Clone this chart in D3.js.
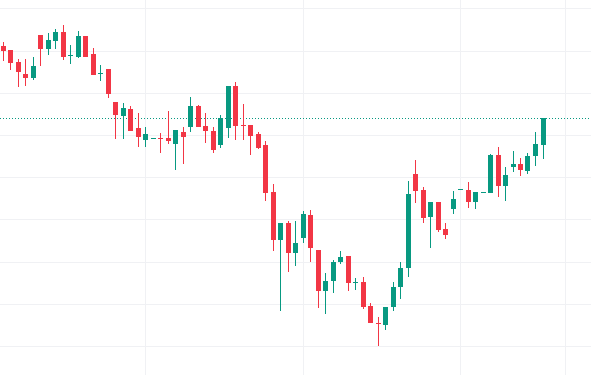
<!DOCTYPE html>
<html>
<head>
<meta charset="utf-8">
<script src="https://cdn.jsdelivr.net/npm/d3@7"></script>
<style>
  html, body { margin: 0; padding: 0; background: #ffffff; }
  svg { display: block; }
</style>
</head>
<body>
<div id="chart"></div>
<script>
// ---- data (OHLC per bar) ----
const opens  = [191.1,190.1,187.4,184.4,183.6,193.7,190.4,192.3,194.4,188.8,188.5,193.4,189.2,184.5,185.6,177.8,174.6,176.2,171.6,168.9,
                169.1,169.2,169.3,167.9,170.7,172.0,176.9,172.1,170.9,167.6,171.7,181.6,172.3,172.3,170.2,167.7,156.5,145.0,149.1,142.1,
                145.5,151.1,142.7,133.1,135.5,140.0,141.3,135.1,135.2,129.5,125.5,125.0,129.3,133.9,138.4,160.8,157.0,150.6,154.0,147.7,
                152.5,157.0,157.0,154.2,156.3,156.3,165.3,158.0,162.5,163.1,161.5,164.9,167.6];
const highs  = [192.0,190.1,187.9,187.9,188.4,193.7,194.2,195.2,196.1,191.3,194.6,193.4,190.5,186.6,185.6,177.8,177.5,176.9,175.1,171.8,
                169.2,170.5,175.7,171.2,171.9,178.9,177.2,175.2,172.0,174.7,181.6,182.6,177.3,172.3,170.7,168.6,158.4,149.1,149.7,149.7,
                152.0,152.2,142.7,137.2,140.4,142.5,141.3,136.0,136.4,130.1,126.8,129.3,135.2,139.9,159.1,164.1,157.7,154.1,154.2,149.1,
                156.7,157.1,158.9,156.4,156.4,165.4,167.2,162.3,166.2,164.5,165.7,170.7,173.9];
const lows   = [187.6,185.5,181.4,181.6,183.0,186.4,189.0,190.3,187.8,186.7,188.2,188.5,184.3,182.9,178.8,169.1,169.1,171.0,167.2,167.2,
                169.1,165.8,167.9,161.7,163.1,170.6,172.0,168.2,165.8,167.0,169.2,168.7,168.8,165.3,166.6,154.4,142.4,128.4,137.6,139.0,
                144.5,140.0,129.1,127.6,132.6,139.4,133.1,133.3,128.8,125.5,120.1,123.8,128.3,131.1,136.4,153.8,149.2,143.3,147.1,145.4,
                151.3,157.0,152.8,152.5,156.3,156.3,155.4,154.4,161.3,160.3,160.7,162.7,164.3];
const closes = [190.0,187.1,184.9,183.6,186.3,190.4,192.5,194.3,188.5,189.0,193.4,188.5,184.3,184.7,179.7,174.8,176.4,171.0,169.4,170.2,
                169.2,169.1,168.6,171.2,169.6,176.9,172.0,171.0,166.4,174.0,181.6,172.1,172.2,169.8,167.0,156.3,145.0,149.1,142.1,144.5,
                151.3,143.1,133.1,135.4,140.0,141.2,135.0,135.2,129.3,125.5,125.3,129.3,133.9,138.4,156.1,156.8,150.4,154.1,147.5,146.3,
                154.8,157.1,154.2,156.4,156.4,165.3,158.0,160.5,163.1,161.7,165.0,167.9,173.9];

// grid "ticks": price levels and bar indices where time grid lines fall
const priceTicks = [120, 130, 140, 150, 160, 170, 180, 190, 200];
const timeTickBars = [19, 40, 61, 75];

const W = 591, H = 375;
const UP = "#089981", DOWN = "#f23645", GRID = "#f0f1f4";

const bars = opens.map((o, i) => ({ i, o, h: highs[i], l: lows[i], c: closes[i] }));
const lastClose = closes[closes.length - 1];
const lastUp = closes[closes.length - 1] >= opens[opens.length - 1];

const x = d3.scaleLinear().domain([0, 72]).range([3.5, 543.5]);
const y = d3.scaleLinear().domain([120, 200]).range([346, 8.33]);

const svg = d3.select("#chart").append("svg")
  .attr("width", W).attr("height", H)
  .attr("shape-rendering", "crispEdges");

svg.append("rect").attr("width", W).attr("height", H).attr("fill", "#ffffff");

// horizontal grid
svg.append("g").selectAll("rect").data(priceTicks).join("rect")
  .attr("x", 0).attr("width", W)
  .attr("y", d => Math.round(y(d))).attr("height", 1)
  .attr("fill", GRID);

// vertical grid
svg.append("g").selectAll("rect").data(timeTickBars).join("rect")
  .attr("y", 0).attr("height", H)
  .attr("x", d => Math.round(x(d)) - 1).attr("width", 1)
  .attr("fill", GRID);

// last price dotted line
svg.append("line")
  .attr("x1", 0).attr("x2", W)
  .attr("y1", Math.round(y(lastClose)) + 0.5).attr("y2", Math.round(y(lastClose)) + 0.5)
  .attr("stroke", lastUp ? UP : DOWN).attr("stroke-width", 1)
  .attr("stroke-dasharray", "1,2");

const g = svg.append("g");
const cx = d => Math.round(x(d.i)) - 1;

// wicks
g.selectAll("rect.wick").data(bars).join("rect")
  .attr("class", "wick")
  .attr("x", d => cx(d))
  .attr("width", 1)
  .attr("y", d => Math.round(y(d.h)))
  .attr("height", d => Math.max(1, Math.round(y(d.l)) - Math.round(y(d.h))))
  .attr("fill", d => d.c >= d.o ? UP : DOWN);

// bodies
g.selectAll("rect.body").data(bars).join("rect")
  .attr("class", "body")
  .attr("x", d => cx(d) - 2)
  .attr("width", 5)
  .attr("y", d => Math.round(y(Math.max(d.o, d.c))))
  .attr("height", d => Math.max(1, Math.round(y(Math.min(d.o, d.c))) - Math.round(y(Math.max(d.o, d.c)))))
  .attr("fill", d => d.c >= d.o ? UP : DOWN);
</script>
</body>
</html>
